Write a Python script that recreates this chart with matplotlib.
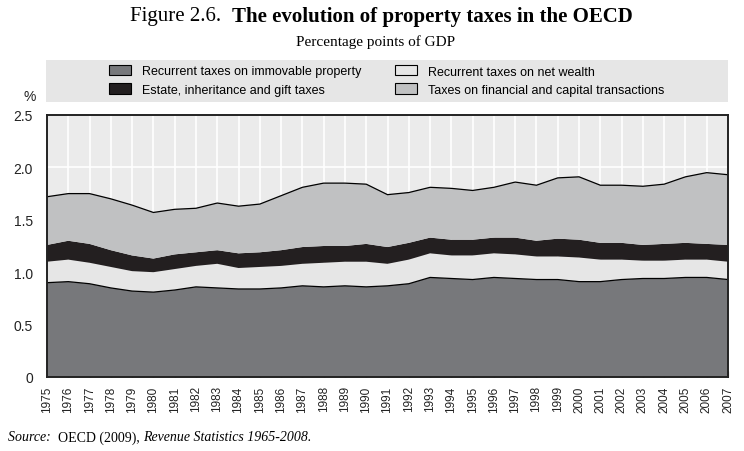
import matplotlib.pyplot as plt
from matplotlib.patches import Patch, Rectangle

years = list(range(1975, 2008))

immovable = [0.90, 0.91, 0.89, 0.85, 0.82, 0.81, 0.83, 0.86, 0.85, 0.84, 0.84,
             0.85, 0.87, 0.86, 0.87, 0.86, 0.87, 0.89, 0.95, 0.94, 0.93, 0.95,
             0.94, 0.93, 0.93, 0.91, 0.91, 0.93, 0.94, 0.94, 0.95, 0.95, 0.93]
net_wealth = [0.20, 0.21, 0.20, 0.20, 0.19, 0.19, 0.20, 0.20, 0.23, 0.20, 0.21,
              0.21, 0.21, 0.23, 0.23, 0.24, 0.21, 0.23, 0.23, 0.22, 0.23, 0.23,
              0.23, 0.22, 0.22, 0.23, 0.21, 0.19, 0.17, 0.17, 0.17, 0.17, 0.17]
estate = [0.16, 0.18, 0.18, 0.16, 0.15, 0.13, 0.14, 0.13, 0.13, 0.14, 0.14,
          0.15, 0.16, 0.16, 0.15, 0.17, 0.16, 0.16, 0.15, 0.15, 0.15, 0.15,
          0.16, 0.15, 0.17, 0.17, 0.16, 0.16, 0.15, 0.16, 0.16, 0.15, 0.16]
financial = [0.46, 0.45, 0.48, 0.49, 0.48, 0.44, 0.43, 0.42, 0.45, 0.45, 0.46,
             0.52, 0.57, 0.60, 0.60, 0.57, 0.50, 0.48, 0.48, 0.49, 0.47, 0.48,
             0.53, 0.53, 0.58, 0.60, 0.55, 0.55, 0.56, 0.57, 0.63, 0.68, 0.67]

labels = ["Recurrent taxes on immovable property", "Recurrent taxes on net wealth",
          "Estate, inheritance and gift taxes", "Taxes on financial and capital transactions"]
colors = ["#77787b", "#e6e6e6", "#231f20", "#c0c1c2"]

sans = ["Liberation Sans", "DejaVu Sans"]
serif = ["Liberation Serif", "DejaVu Serif"]

fig = plt.figure(figsize=(7.44, 4.52), dpi=100)
ax = fig.add_axes([47 / 744, 1 - 378 / 452, 681 / 744, 262 / 452])
ax.set_facecolor("#ebebeb")

ax.stackplot(years, immovable, net_wealth, estate, financial,
             colors=colors, linewidth=0, zorder=2)

# thin outlines on the bottom layer and the total
total = [a + b + c + d for a, b, c, d in zip(immovable, net_wealth, estate, financial)]
ax.plot(years, immovable, color="black", lw=0.9, zorder=3)
ax.plot(years, total, color="black", lw=0.9, zorder=3)

ax.set_xlim(1975, 2007)
ax.set_ylim(0, 2.5)
ax.set_xticks(years)
ax.set_xticklabels([str(y) for y in years], rotation=90, family=sans, fontsize=8.5,
                   color="#222222")
ax.set_yticks([0, 0.5, 1.0, 1.5, 2.0, 2.5])
ax.set_yticklabels(["0", "0.5", "1.0", "1.5", "2.0", "2.5"], family=sans, fontsize=10,
                   color="#222222")
ax.tick_params(axis="x", direction="in", length=4, width=0.8, pad=6, color="#333333")
ax.tick_params(axis="y", length=0, pad=10)
ax.grid(True, color="white", lw=1.2, zorder=1)
ax.set_axisbelow(True)
for s in ax.spines.values():
    s.set_color("#222222")
    s.set_linewidth(1.4)
    s.set_zorder(4)

# legend panel
fig.patches.append(Rectangle((46 / 744, 1 - 103 / 452), 682 / 744, 42 / 452,
                             transform=fig.transFigure, facecolor="#e6e6e6",
                             edgecolor="none", zorder=0))
handles = [Patch(facecolor=c, edgecolor="black", lw=0.8, label=l)
           for c, l in zip(colors, labels)]
leg_kw = dict(loc="upper left", frameon=False, borderpad=0, borderaxespad=0,
              prop={"family": sans, "size": 9}, handlelength=1.75, handleheight=0.9,
              handletextpad=0.85, labelspacing=0.45)
leg1 = fig.legend(handles=[handles[0], handles[2]],
                  bbox_to_anchor=(109 / 744, 1 - 66 / 452), **leg_kw)
leg2 = fig.legend(handles=[handles[1], handles[3]],
                  bbox_to_anchor=(395 / 744, 1 - 66 / 452), **leg_kw)

fig.text(30 / 744, 1 - 97 / 452, "%", family=sans, fontsize=10, ha="center", va="center",
         color="#222222")

fig.text(376 / 744, 1 - 42 / 452, "Percentage points of GDP", family=serif, fontsize=11,
         ha="center", va="center")

# title and source line, pieces laid out one after another
fig.canvas.draw()
r = fig.canvas.get_renderer()


def run_text(x, y, parts, size):
    for txt, st, wt in parts:
        t = fig.text(x / 744, 1 - y / 452, txt, family=serif, style=st, fontweight=wt,
                     fontsize=size, va="center")
        x += t.get_window_extent(r).width


run_text(130, 17, [("Figure 2.6.  ", "normal", "normal"),
                   ("The evolution of property taxes in the OECD", "normal", "bold")], 15)
run_text(8, 438, [("Source:  ", "italic", "normal"), ("OECD (2009), ", "normal", "normal"),
                  ("Revenue Statistics 1965-2008.", "italic", "normal")], 10)

fig.savefig("out.png", dpi=100)
